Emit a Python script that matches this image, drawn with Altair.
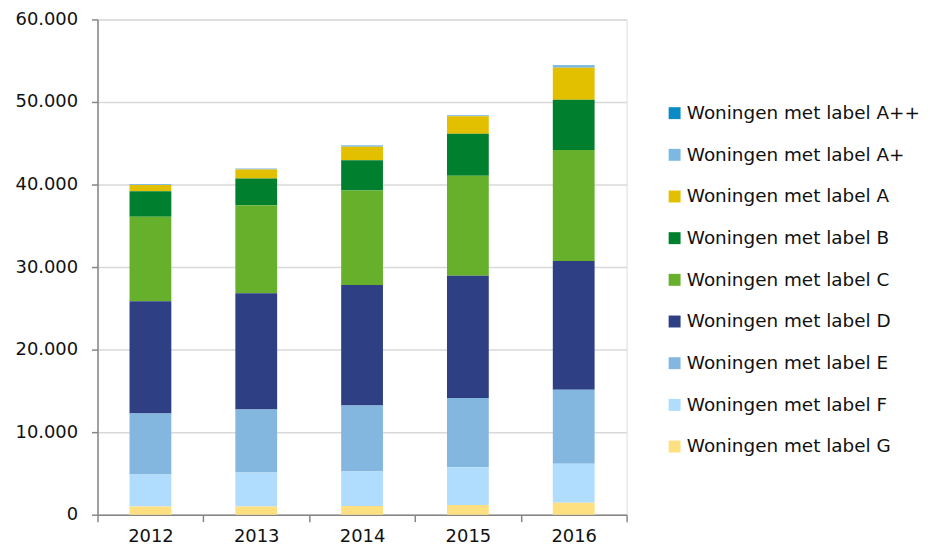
import altair as alt
import pandas as pd

years = ["2012", "2013", "2014", "2015", "2016"]
labels = ["A++", "A+", "A", "B", "C", "D", "E", "F", "G"]
series_names = ["Woningen met label " + l for l in labels]
colors = ["#0b8bc6", "#7db8e2", "#e2c000", "#00802e", "#66b02c",
          "#2f3f84", "#84b7df", "#b0ddfe", "#ffe081"]

vals_app = [20, 20, 30, 40, 60]
vals_ap = [90, 110, 140, 120, 240]
vals_a = [760, 1080, 1640, 2120, 3880]
vals_b = [3080, 3240, 3680, 5080, 6080]
vals_c = [10240, 10680, 11440, 12120, 13440]
vals_d = [13600, 14080, 14600, 14800, 15600]
vals_e = [7400, 7640, 8000, 8400, 8960]
vals_f = [3860, 4100, 4160, 4560, 4720]
vals_g = [1000, 1000, 1060, 1180, 1460]

all_vals = [vals_app, vals_ap, vals_a, vals_b, vals_c, vals_d, vals_e, vals_f, vals_g]

rows = []
for si, (name, vals) in enumerate(zip(series_names, all_vals)):
    for y, v in zip(years, vals):
        rows.append({"jaar": y, "serie": name, "waarde": v, "volgorde": len(labels) - si})
df = pd.DataFrame(rows)

font = "DejaVu Sans"

chart = alt.Chart(df).mark_bar(width=alt.RelativeBandSize(0.395)).encode(
    x=alt.X("jaar:N", title=None,
            scale=alt.Scale(paddingInner=0, paddingOuter=0),
            axis=alt.Axis(labelAngle=0, tickBand="extent", tickSize=7, labelPadding=6,
                          domainColor="#868686", tickColor="#868686", domainWidth=1.5,
                          tickWidth=1.5, labelFontSize=18, labelColor="#111111",
                          labelFont=font, grid=False)),
    y=alt.Y("sum(waarde):Q", title=None, stack="zero",
            scale=alt.Scale(domain=[0, 60000], nice=False),
            axis=alt.Axis(values=[0, 10000, 20000, 30000, 40000, 50000, 60000],
                          labelExpr="replace(format(datum.value, ',d'), ',', '.')",
                          tickSize=6, labelPadding=14, domainColor="#868686",
                          tickColor="#868686", domainWidth=1.5, tickWidth=1.5,
                          labelFontSize=18, labelColor="#111111", labelFont=font,
                          grid=True, gridColor="#d9d9d9", gridWidth=1.5)),
    color=alt.Color("serie:N", title=None,
                    scale=alt.Scale(domain=series_names, range=colors),
                    legend=alt.Legend(orient="none", legendX=571, legendY=85,
                                      symbolType="square", symbolSize=144,
                                      symbolStrokeWidth=0, labelFontSize=18.5,
                                      labelFont=font, labelColor="#111111",
                                      labelOffset=3, rowPadding=22.9, padding=0,
                                      labelLimit=400)),
    order=alt.Order("volgorde:Q", sort="ascending"),
).properties(
    width=532, height=498,
    autosize=alt.AutoSizeParams(type="none"),
    padding={"left": 90, "top": 10, "right": 297, "bottom": 31},
).configure_view(
    stroke="#d9d9d9", strokeWidth=1.5
).configure(background="white")

chart.save("out.html", embed_options={"renderer": "svg", "actions": False})
